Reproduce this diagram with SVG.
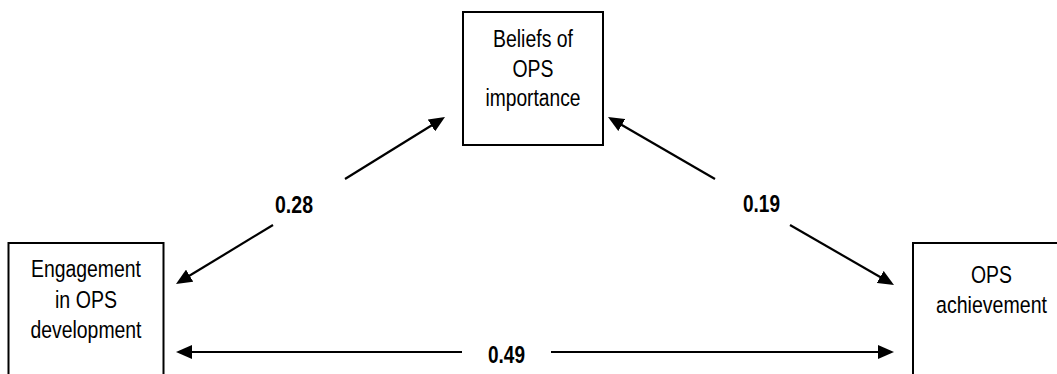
<svg xmlns="http://www.w3.org/2000/svg" width="1057" height="374" viewBox="0 0 1057 374">
<style>
.box{fill:#fff;stroke:#000;stroke-width:2}
.lbl{font-family:"Liberation Sans",Arial,sans-serif;font-size:23.5px;fill:#000;text-anchor:middle}
.num{font-family:"Liberation Sans",Arial,sans-serif;font-size:23px;font-weight:bold;fill:#000;text-anchor:middle}
.c{stroke:#000;stroke-width:2.2;fill:none;marker-end:url(#ah)}
</style>
<defs>
<marker id="ah" markerUnits="userSpaceOnUse" markerWidth="16" markerHeight="14" refX="10" refY="7" orient="auto" viewBox="0 0 16 14">
<path d="M0,0 L16,7 L0,14 z" fill="#000"/>
</marker>
</defs>
<rect width="1057" height="374" fill="#fff"/>
<g id="connectors">
<line class="c" x1="345" y1="179" x2="439.9" y2="120.2"/>
<line class="c" x1="273" y1="225" x2="181.1" y2="280.8"/>
<line class="c" x1="715" y1="179" x2="613.2" y2="120"/>
<line class="c" x1="790" y1="225" x2="888.8" y2="282"/>
<line class="c" x1="462" y1="352" x2="182" y2="352"/>
<line class="c" x1="551" y1="352" x2="888" y2="352"/>
<text class="num" x="294" y="213" textLength="38" lengthAdjust="spacingAndGlyphs">0.28</text>
<text class="num" x="761.5" y="212" textLength="37" lengthAdjust="spacingAndGlyphs">0.19</text>
<text class="num" x="506.5" y="363" textLength="37" lengthAdjust="spacingAndGlyphs">0.49</text>
</g>
<g id="beliefs">
<rect class="box" x="463" y="12" width="140" height="133"/>
<text class="lbl" x="533" y="47" textLength="80" lengthAdjust="spacingAndGlyphs">Beliefs of</text>
<text class="lbl" x="533" y="76.5" textLength="41" lengthAdjust="spacingAndGlyphs">OPS</text>
<text class="lbl" x="533" y="106" textLength="95" lengthAdjust="spacingAndGlyphs">importance</text>
</g>
<g id="engagement">
<rect class="box" x="8.5" y="243" width="155" height="145"/>
<text class="lbl" x="86" y="277" textLength="110" lengthAdjust="spacingAndGlyphs">Engagement</text>
<text class="lbl" x="86" y="307.5" textLength="62" lengthAdjust="spacingAndGlyphs">in OPS</text>
<text class="lbl" x="86" y="338" textLength="111" lengthAdjust="spacingAndGlyphs">development</text>
</g>
<g id="achievement">
<rect class="box" x="913" y="243" width="160" height="145"/>
<text class="lbl" x="991.5" y="283" textLength="41" lengthAdjust="spacingAndGlyphs">OPS</text>
<text class="lbl" transform="translate(991.5,313) scale(0.833,1)" x="0" y="0">achievement</text>
</g>
</svg>
